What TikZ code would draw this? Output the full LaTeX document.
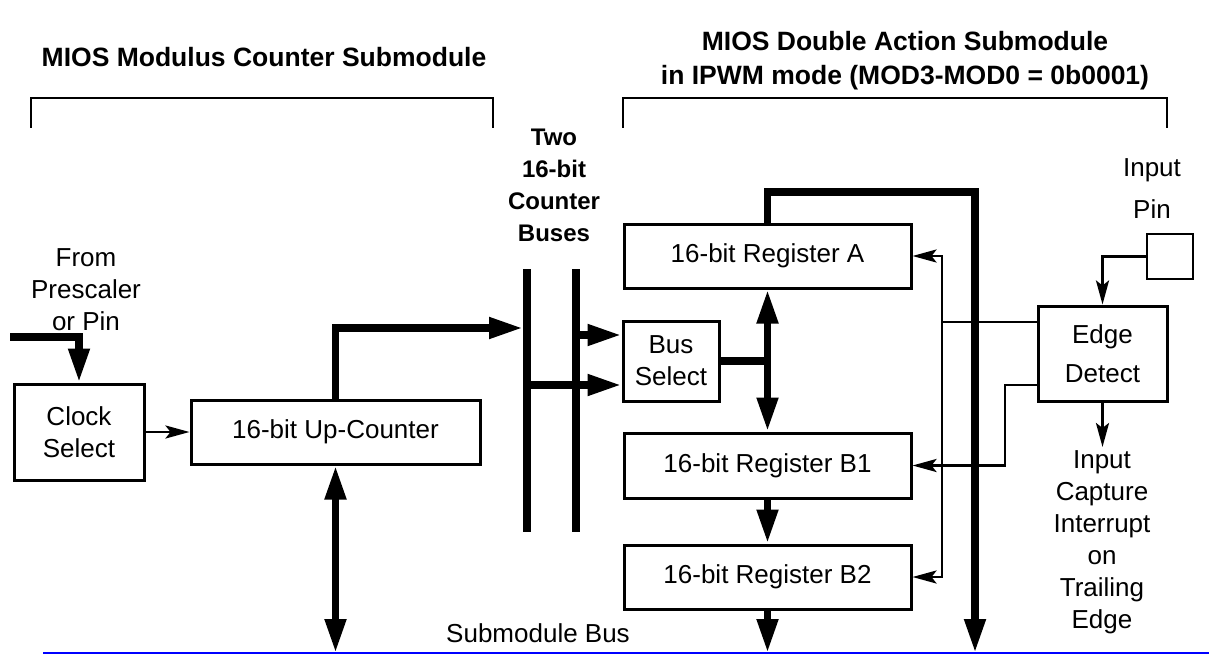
\documentclass[tikz,border=0pt]{standalone}
\usepackage{fontspec}
\setmainfont{Liberation Sans}
\usetikzlibrary{arrows.meta}
\newcommand\mytxt{\fontsize{26}{32}\selectfont}
\newcommand\mybold{\fontsize{24}{32}\selectfont\bfseries}
\newcommand\mytitle{\fontsize{26.5}{34}\selectfont\bfseries}
\begin{document}
\begin{tikzpicture}[x=1pt,y=-1pt,
  lbl/.style={font=\mytxt, align=center, inner sep=0pt},
  blbl/.style={font=\mybold, align=center, inner sep=0pt},
  tlbl/.style={font=\mytitle, align=center, inner sep=0pt},
  box/.style={draw, line width=3pt, inner sep=0pt, align=center, font=\mytxt},
  bus/.style={line width=8pt},
  fat/.style={line width=7.5pt},
  fatarrow/.style={fat, -{Triangle[length=34pt,width=20pt]}},
  fatdbl/.style={fat, {Triangle[length=34pt,width=20pt]}-{Triangle[length=34pt,width=20pt]}},
  wire/.style={line width=2.8pt},
  wirearrow/.style={wire, -{Stealth[length=24pt,width=13pt,inset=5pt]}},
  bracket/.style={line width=2pt},
  sbus/.style={draw=blue, line width=2.5pt}]
\useasboundingbox (0,0) rectangle (1209,655);

% titles and brackets
\node[tlbl] (t1) at (264,57) {MIOS Modulus Counter Submodule};
\node[tlbl] (t2) at (905,61) {MIOS Double Action Submodule\\in IPWM mode (MOD3-MOD0 = 0b0001)};
\draw[bracket] (31,128) -- (31,98) -- (493,98) -- (493,128);
\draw[bracket] (623,128) -- (623,98) -- (1167,98) -- (1167,128);
\node[blbl] (tb) at (554,185) {Two\\16-bit\\Counter\\Buses};

% labels
\node[lbl] (fp) at (86,290) {From\\Prescaler\\or Pin};
\node[lbl] (ip) at (1152,189) {Input\\[10pt]Pin};
\node[lbl] (ic) at (1102,542.5) {Input\\Capture\\Interrupt\\on\\Trailing\\Edge};
\node[lbl] (sbt) at (538,633) {Submodule Bus};

% submodule bus line
\coordinate (sbl) at (43,653);
\coordinate (sbr) at (1209,653);
\draw[sbus] (sbl) -- (sbr);

% boxes
\node[box, minimum width=130pt, minimum height=96pt] (clk) at (79,432) {Clock\\Select};
\node[box, minimum width=289pt, minimum height=64pt] (up) at (335.5,432) {16-bit Up-Counter};
\node[box, minimum width=96pt, minimum height=80pt] (bsel) at (671,361) {Bus\\Select};
\node[box, minimum width=287pt, minimum height=64pt] (regA) at (767.5,256) {16-bit Register A};
\node[box, minimum width=287pt, minimum height=65pt] (regB1) at (767.5,465.5) {16-bit Register B1};
\node[box, minimum width=287pt, minimum height=64pt] (regB2) at (767.5,577) {16-bit Register B2};
\node[box, minimum width=129pt, minimum height=95pt] (edge) at (1102.5,353.5) {Edge\\[7pt]Detect};
\node[draw, line width=1.5pt, minimum width=46pt, minimum height=45pt, inner sep=0pt] (pin) at (1170,256.5) {};

% counter buses
\coordinate (b1t) at (527,269); \coordinate (b1b) at (527,532);
\coordinate (b2t) at (576,269); \coordinate (b2b) at (576,532);
\draw[bus] (b1t) -- (b1b);
\draw[bus] (b2t) -- (b2b);

% left side
\coordinate (src) at (10,337);
\draw[fatarrow] (src) -| (clk.north);
\draw[wirearrow] (clk.east) -- (up.west);
\coordinate (b1in) at (523,328);
\draw[fatarrow] (up.north) |- (b1in);
\coordinate (sb1) at (335.5,653);
\draw[fatdbl] (up.south) -- (sb1);

% bus select
\coordinate (b2o) at (576,335);
\draw[fatarrow] (b2o) -- (b2o -| bsel.west);
\coordinate (b1o) at (527,385);
\draw[fatarrow] (b1o) -- (b1o -| bsel.west);
\draw[fat] (bsel.east) -- (bsel.east -| regA.south);

% registers
\draw[fatdbl] (regA.south) -- (regB1.north);
\draw[fatarrow] (regB1.south) -- (regB2.north);
\coordinate (sb2) at (767.5,653);
\draw[fatarrow] (regB2.south) -- (sb2);
\coordinate (loopc) at (975,192);
\coordinate (sb3) at (975,653);
\draw[fatarrow] (regA.north) |- (loopc) -- (sb3);

% edge detect wiring
\coordinate (tap) at (942,322);
\draw[wire] (edge.west |- tap) -- (tap);
\draw[wirearrow] (tap) |- (regA.east);
\draw[wirearrow] (tap) |- (regB2.east);
\coordinate (e2) at (1005,385);
\draw[wirearrow] (edge.west |- e2) -- (e2) |- (regB1.east);
\draw[wirearrow] (pin.west) -| (edge.north);
\coordinate (icap) at (1102.5,447);
\draw[wirearrow] (edge.south) -- (icap);
\end{tikzpicture}
\end{document}
